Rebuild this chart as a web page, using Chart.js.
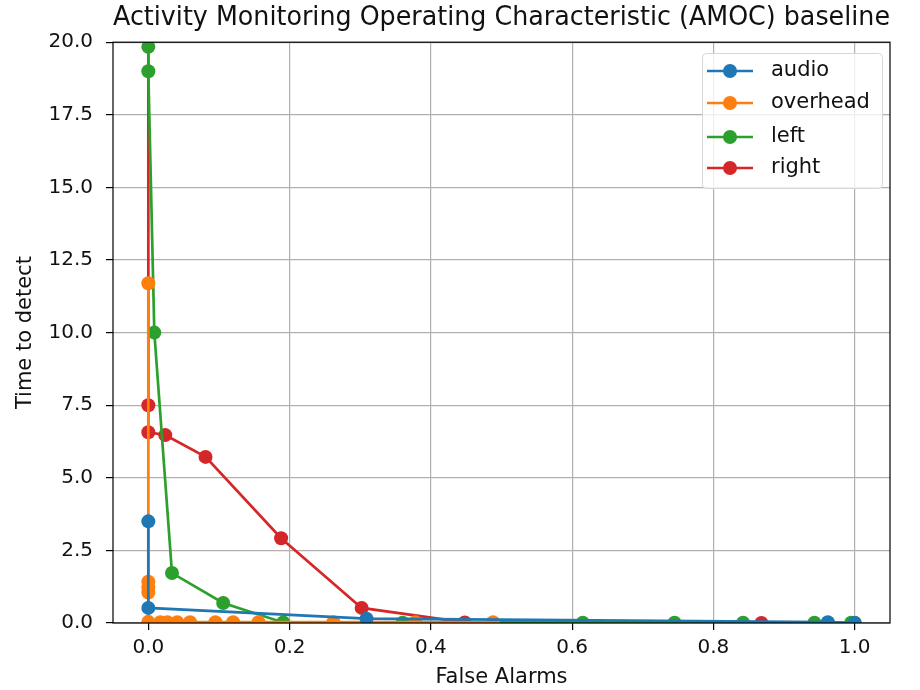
<!DOCTYPE html>
<html>
<head>
<meta charset="utf-8">
<script src="https://cdn.jsdelivr.net/npm/chart.js@4/dist/chart.umd.min.js"></script>
<style>
  html, body { margin: 0; padding: 0; background: #fff; }
  #wrap { width: 920px; height: 690px; }
</style>
</head>
<body>
<div id="wrap"><canvas id="amoc" width="920" height="690"></canvas></div>
<script>
// Données
const seriesNames = ['audio', 'overhead', 'left', 'right'];
const seriesColors = ['#1f77b4', '#ff7f0e', '#2ca02c', '#d62728'];

const audioX = [0, 0, 0.309, 0.962, 1.0];
const audioY = [3.5, 0.52, 0.15, 0.03, 0.0];

const overheadX = [0, 0, 0, 0, 0, 0.017, 0.027, 0.041, 0.059, 0.095, 0.12, 0.156, 0.262, 0.378, 0.488];
const overheadY = [11.7, 1.42, 1.22, 1.05, 0.04, 0.03, 0.03, 0.03, 0.03, 0.03, 0.03, 0.03, 0.03, 0.03, 0.03];

const leftX = [0, 0, 0, 0.0085, 0.0335, 0.106, 0.191, 0.36, 0.615, 0.745, 0.842, 0.943, 0.995, 1.0];
const leftY = [30, 19.84, 19.0, 10.0, 1.72, 0.69, 0.02, 0.01, 0.01, 0.01, 0.01, 0.01, 0.01, 0.01];

const rightX = [0, 0, 0, 0.024, 0.081, 0.188, 0.302, 0.448, 0.868];
const rightY = [30, 7.5, 6.57, 6.47, 5.72, 2.92, 0.52, 0.02, 0.0];

const xTicks = [0, 0.2, 0.4, 0.6, 0.8, 1.0];
const yTicks = [0, 2.5, 5, 7.5, 10, 12.5, 15, 17.5, 20];

const titleText = 'Activity Monitoring Operating Characteristic (AMOC) baseline';
const xLabel = 'False Alarms';
const yLabel = 'Time to detect';

function toPoints(xs, ys) {
    return xs.map((x, i) => ({ x: x, y: ys[i] }));
}

const allX = [audioX, overheadX, leftX, rightX];
const allY = [audioY, overheadY, leftY, rightY];

const datasets = seriesNames.map((name, i) => ({
    label: name,
    data: toPoints(allX[i], allY[i]),
    borderColor: seriesColors[i],
    backgroundColor: seriesColors[i],
    borderWidth: 2.7,
    pointRadius: 7,
    pointHoverRadius: 7,
    pointBorderWidth: 0,
    showLine: true,
    tension: 0,
    clip: 0 // couper net au bord de la zone de tracé
}));

const FONT = "'DejaVu Sans', sans-serif";

// Cadre noir autour de la zone de tracé (comme matplotlib)
const framePlugin = {
    id: 'frame',
    afterDatasetsDraw(chart) {
        const a = chart.chartArea;
        const ctx = chart.ctx;
        ctx.save();
        ctx.strokeStyle = '#000';
        ctx.lineWidth = 1.2;
        ctx.strokeRect(a.left, a.top, a.right - a.left, a.bottom - a.top);
        ctx.restore();
    }
};

// Légende dans le coin haut droit, dessinée à la main
const legendBox = {
    id: 'legendBox',
    afterDraw(chart) {
        const ctx = chart.ctx;
        const x0 = 702, y0 = 53, w = 180, h = 135;
        ctx.save();
        ctx.fillStyle = 'rgba(255,255,255,0.8)';
        ctx.strokeStyle = '#d6d6d6';
        ctx.lineWidth = 1;
        ctx.beginPath();
        ctx.roundRect(x0 + 0.5, y0 + 0.5, w, h, 4);
        ctx.fill();
        ctx.stroke();
        const rows = [71, 103, 137, 168];
        chart.data.datasets.forEach((ds, i) => {
            const cy = rows[i];
            ctx.strokeStyle = ds.borderColor;
            ctx.lineWidth = 2.7;
            ctx.beginPath();
            ctx.moveTo(707, cy);
            ctx.lineTo(753, cy);
            ctx.stroke();
            ctx.fillStyle = ds.backgroundColor;
            ctx.beginPath();
            ctx.arc(730, cy, 7, 0, Math.PI * 2);
            ctx.fill();
            ctx.fillStyle = '#111';
            ctx.font = '21px ' + FONT;
            ctx.textBaseline = 'middle';
            ctx.fillText(ds.label, 771, cy);
        });
        ctx.restore();
    }
};

const ctx = document.getElementById('amoc').getContext('2d');
const amocChart = new Chart(ctx, {
    type: 'line',
    data: { datasets: datasets },
    options: {
        responsive: false,
        animation: false,
        layout: { padding: { left: 0, right: 30, top: 0, bottom: 0 } },
        plugins: {
            legend: { display: false },
            tooltip: { enabled: false },
            title: {
                display: true,
                text: titleText,
                fullSize: false,
                color: '#111',
                font: { family: FONT, size: 26, weight: 'normal' },
                padding: { top: 3, bottom: 8 }
            }
        },
        scales: {
            x: {
                type: 'linear',
                min: -0.05,
                max: 1.05,
                afterBuildTicks: scale => { scale.ticks = xTicks.map(v => ({ value: v })); },
                afterFit: scale => { scale.height = 67; },
                ticks: {
                    color: '#111',
                    font: { family: FONT, size: 20 },
                    padding: 6,
                    maxRotation: 0,
                    callback: v => Number(v).toFixed(1)
                },
                grid: { color: '#b0b0b0', lineWidth: 1.2, tickColor: '#000', tickLength: 7 },
                border: { display: false },
                title: {
                    display: true,
                    text: xLabel,
                    color: '#111',
                    font: { family: FONT, size: 21 },
                    padding: { top: 0, bottom: 0 }
                }
            },
            y: {
                type: 'linear',
                min: 0,
                max: 20,
                afterBuildTicks: scale => { scale.ticks = yTicks.map(v => ({ value: v })); },
                afterFit: scale => { scale.width = 113; },
                ticks: {
                    color: '#111',
                    font: { family: FONT, size: 20 },
                    padding: 13,
                    callback: v => Number(v).toFixed(1)
                },
                grid: { color: '#b0b0b0', lineWidth: 1.2, tickColor: '#000', tickLength: 7 },
                border: { display: false },
                title: {
                    display: true,
                    text: yLabel,
                    color: '#111',
                    font: { family: FONT, size: 21 },
                    padding: { top: 13, bottom: 4 }
                }
            }
        }
    },
    plugins: [framePlugin, legendBox]
});
</script>
</body>
</html>
